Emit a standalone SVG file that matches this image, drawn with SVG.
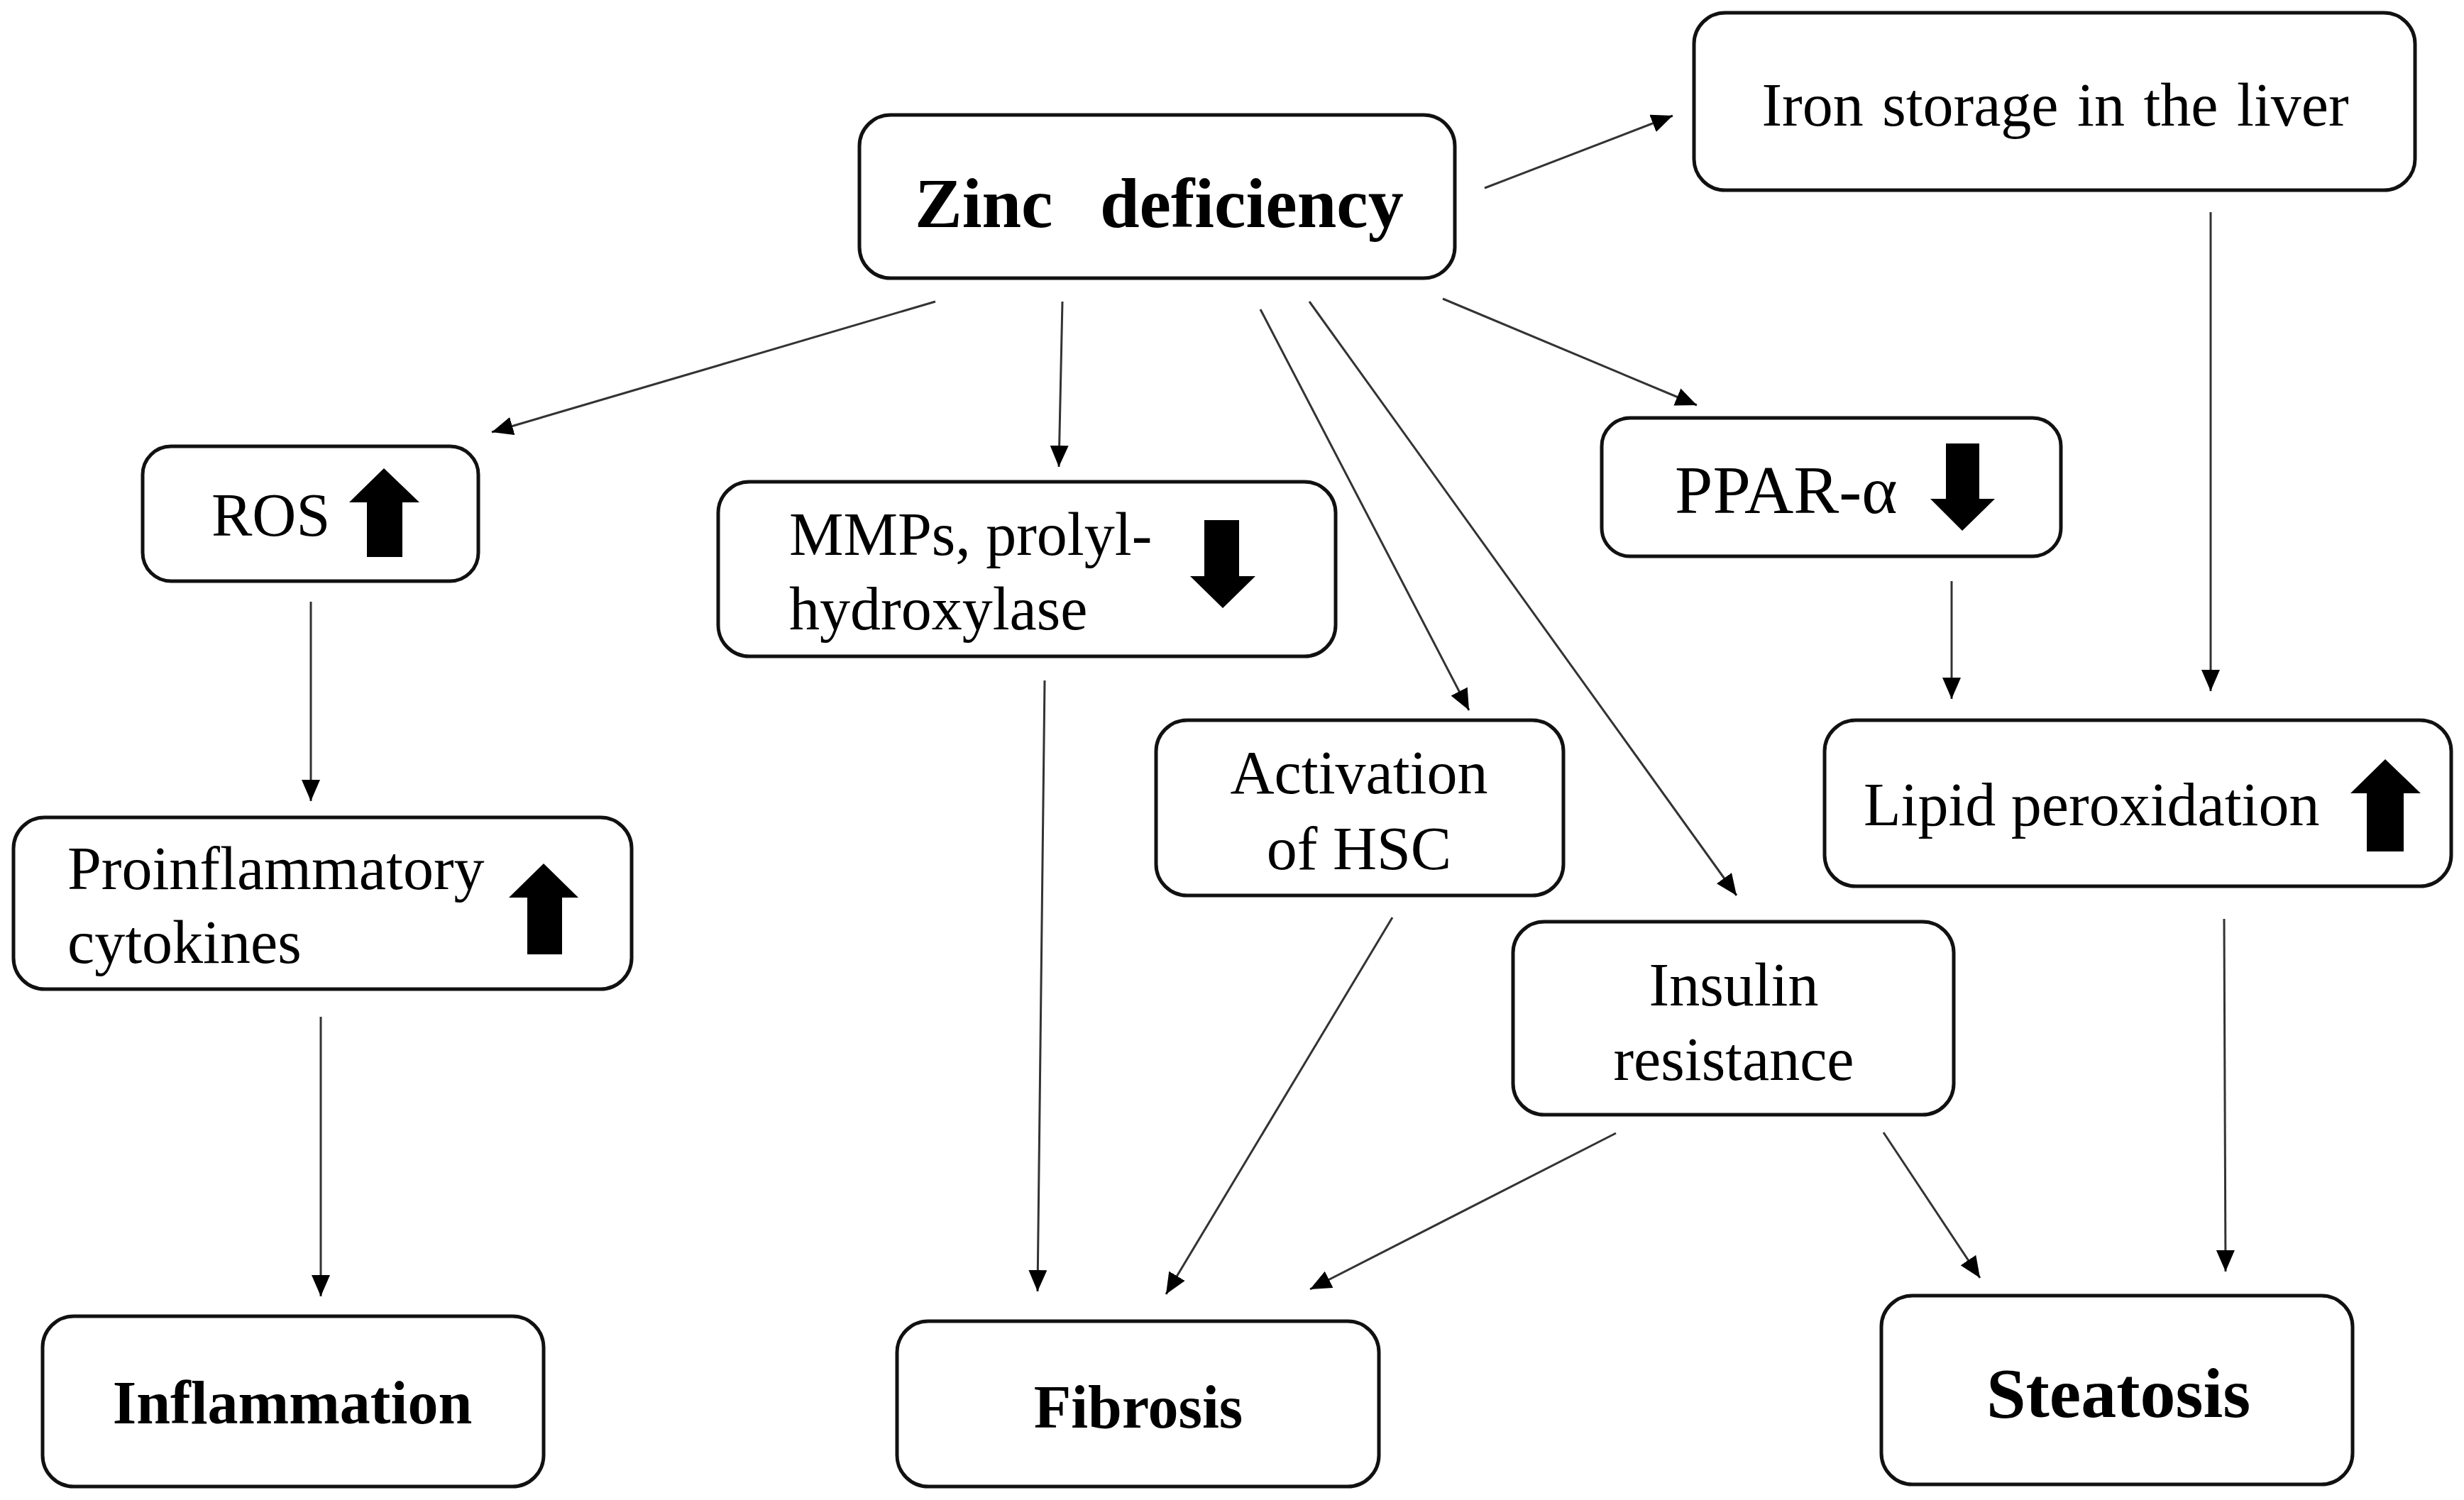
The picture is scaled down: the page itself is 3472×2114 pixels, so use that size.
<svg xmlns="http://www.w3.org/2000/svg" width="3472" height="2114" viewBox="0 0 3472 2114">
<style>
.box{fill:#fff;stroke:#111;stroke-width:5}
.t{font-family:"Liberation Serif","Times New Roman",serif;font-size:86px;fill:#000}
.b{font-family:"Liberation Serif","Times New Roman",serif;font-size:86px;font-weight:bold;fill:#000}
.c{text-anchor:middle}
.con line{stroke:#333;stroke-width:3;fill:none;marker-end:url(#ah)}
.ind{fill:#000}
</style>
<defs>
<marker id="ah" markerUnits="userSpaceOnUse" markerWidth="32" markerHeight="28" refX="30" refY="13" orient="auto">
<path d="M0,0 L30,13 L0,26 z" fill="#000"/>
</marker>
</defs>
<rect width="3472" height="2114" fill="#fff"/>
<g class="con">
<line x1="2092" y1="265" x2="2357" y2="163"/>
<line x1="1318" y1="425" x2="693" y2="609"/>
<line x1="1497" y1="425" x2="1492" y2="658"/>
<line x1="1776" y1="436" x2="2070" y2="1001"/>
<line x1="1845" y1="425" x2="2447" y2="1262"/>
<line x1="2033" y1="421" x2="2391" y2="571"/>
<line x1="3115" y1="299" x2="3115" y2="974"/>
<line x1="2750" y1="819" x2="2750" y2="985"/>
<line x1="438" y1="848" x2="438" y2="1129"/>
<line x1="452" y1="1433" x2="452" y2="1827"/>
<line x1="1472" y1="959" x2="1462" y2="1820"/>
<line x1="1962" y1="1293" x2="1643" y2="1824"/>
<line x1="2277" y1="1597" x2="1846" y2="1817"/>
<line x1="2654" y1="1596" x2="2790" y2="1801"/>
<line x1="3134" y1="1295" x2="3136" y2="1792"/>
</g>
<g id="zinc">
<rect class="box" x="1211" y="162" width="839" height="230" rx="44"/>
<text class="b" style="font-size:100px" x="1289" y="320">Zinc</text>
<text class="b" style="font-size:100px" x="1550" y="320">deficiency</text>
</g>
<g id="iron">
<rect class="box" x="2387" y="18" width="1016" height="250" rx="44"/>
<text class="t c" x="2896" y="177" word-spacing="5">Iron storage in the liver</text>
</g>
<g id="ros">
<rect class="box" x="201" y="629" width="473" height="190" rx="40"/>
<text class="t" x="298" y="755">ROS</text>
<path class="ind" d="M541,660 L591,708 L567,708 L567,785 L517,785 L517,708 L492,708 z"/>
</g>
<g id="mmps">
<rect class="box" x="1012" y="679" width="870" height="246" rx="44"/>
<text class="t" x="1112" y="782">MMPs, prolyl-</text>
<text class="t" x="1112" y="887">hydroxylase</text>
<path class="ind" d="M1697,733 L1746,733 L1746,812 L1769,812 L1723,857 L1677,812 L1697,812 z"/>
</g>
<g id="ppar">
<rect class="box" x="2257" y="589" width="647" height="195" rx="40"/>
<text class="t" style="font-size:96px" x="2360" y="723">PPAR-α</text>
<path class="ind" d="M2742,625 L2789,625 L2789,703 L2811,703 L2765,748 L2720,703 L2742,703 z"/>
</g>
<g id="lipid">
<rect class="box" x="2571" y="1015" width="883" height="234" rx="44"/>
<text class="t" x="2626" y="1163">Lipid peroxidation</text>
<path class="ind" d="M3361,1070 L3411,1118 L3387,1118 L3387,1200 L3335,1200 L3335,1118 L3312,1118 z"/>
</g>
<g id="proinflammatory">
<rect class="box" x="19" y="1152" width="871" height="242" rx="44"/>
<text class="t" x="95" y="1253">Proinflammatory</text>
<text class="t" x="95" y="1357">cytokines</text>
<path class="ind" d="M766,1217 L815,1265 L792,1265 L792,1345 L743,1345 L743,1265 L717,1265 z"/>
</g>
<g id="activation">
<rect class="box" x="1629" y="1015" width="574" height="247" rx="44"/>
<text class="t c" x="1915" y="1118">Activation</text>
<text class="t c" x="1915" y="1225">of HSC</text>
</g>
<g id="insulin">
<rect class="box" x="2132" y="1299" width="621" height="272" rx="44"/>
<text class="t c" x="2443" y="1417">Insulin</text>
<text class="t c" x="2443" y="1522">resistance</text>
</g>
<g id="inflammation">
<rect class="box" x="60" y="1855" width="706" height="240" rx="44"/>
<text class="b c" x="412" y="2006">Inflammation</text>
</g>
<g id="fibrosis">
<rect class="box" x="1264" y="1862" width="679" height="233" rx="44"/>
<text class="b c" x="1604" y="2012">Fibrosis</text>
</g>
<g id="steatosis">
<rect class="box" x="2651" y="1826" width="664" height="266" rx="44"/>
<text class="b c" style="font-size:100px" x="2985" y="1997">Steatosis</text>
</g>
</svg>
